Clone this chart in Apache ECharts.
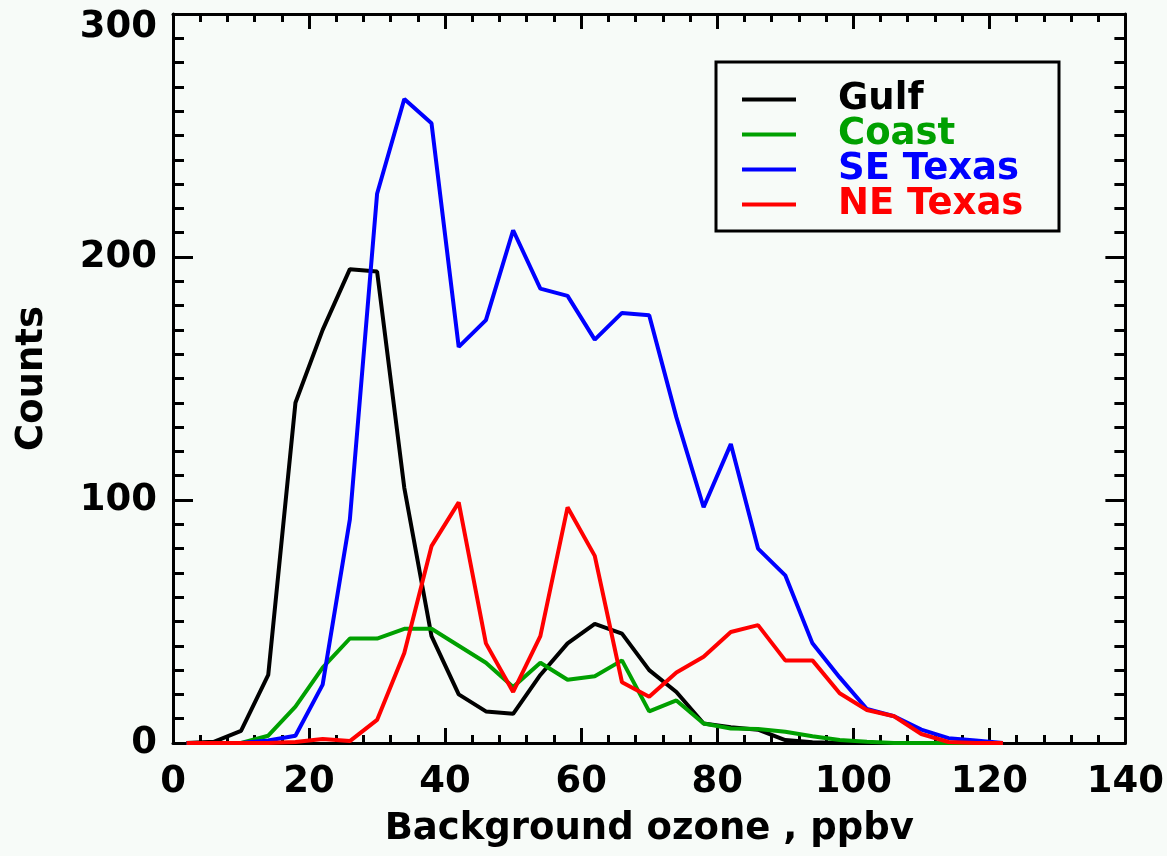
<!DOCTYPE html>
<html>
<head>
<meta charset="utf-8">
<title>Background ozone counts</title>
<script src="https://cdn.jsdelivr.net/npm/echarts@6/dist/echarts.min.js"></script>
<style>
	html, body { margin: 0; padding: 0; background: #f7fbf8; }
	#main { width: 1167px; height: 856px; }
</style>
</head>
<body>
<div id="main"></div>
<script>
// bin centres, ppbv
let ozone = [2, 6, 10, 14, 18, 22, 26, 30, 34, 38, 42, 46, 50, 54, 58, 62, 66, 70, 74, 78, 82, 86, 90, 94, 98, 102, 106, 110, 114, 118, 122];

// counts per region
let gulf = [0, 0.5, 5, 28, 140, 170, 195, 194, 105, 44, 20, 13, 12, 28, 41, 49, 45, 30, 21, 8, 6.5, 5.5, 1.2, 0.3, 0, 0, 0, 0, 0, 0, 0];
let coast = [0, 0, 0, 3, 15, 31, 43, 43, 47, 47, 40, 33, 23, 33, 26, 27.5, 34, 13, 17.5, 8, 6, 5.8, 4.6, 2.8, 1.2, 0.5, 0, 0, 0, 0, 0];
let seTexas = [0, 0, 0, 1, 3, 24, 92, 226, 265, 255, 163, 174, 211, 187, 184, 166, 177, 176, 134, 97, 123, 80, 69, 41, 27, 14, 11, 5.5, 2, 1, 0];
let neTexas = [0, 0, 0, 0, 0.4, 1.6, 0.8, 9.5, 37, 81, 99, 41, 21, 44, 97, 77, 25, 19, 29, 35.5, 45.7, 48.5, 34, 34, 20.5, 13.6, 11, 3.7, 0.4, 0, 0];

let names = ['Gulf', 'Coast', 'SE Texas', 'NE Texas'];
let colors = ['#000000', '#00a000', '#0000ff', '#ff0000'];

let font = 'DejaVu Sans';

function pairs(vals) {
	return ozone.map((x, i) => [x, vals[i]]);
}

// IDL-style box: same axis on both sides, ticks pointing in
function xAx(pos, labels) {
	return {
		type: 'value', position: pos, min: 0, max: 140, interval: 20,
		axisLine: { show: true, onZero: false, lineStyle: { color: '#000', width: 3 } },
		axisTick: { show: true, inside: true, length: 15, lineStyle: { color: '#000', width: 3 } },
		minorTick: { show: true, splitNumber: 5, length: 8, lineStyle: { color: '#000', width: 3 } },
		splitLine: { show: false },
		axisLabel: { show: labels, color: '#000', fontFamily: font, fontWeight: 'bold', fontSize: 37, margin: 21 },
		name: labels ? 'Background ozone , ppbv' : '',
		nameLocation: 'middle', nameGap: 68,
		nameTextStyle: { color: '#000', fontFamily: font, fontWeight: 'bold', fontSize: 37 }
	};
}

function yAx(pos, labels) {
	return {
		type: 'value', position: pos, min: 0, max: 300, interval: 100,
		axisLine: { show: true, onZero: false, lineStyle: { color: '#000', width: 3 } },
		axisTick: { show: true, inside: true, length: 20, lineStyle: { color: '#000', width: 3 } },
		minorTick: { show: true, splitNumber: 10, length: 11, lineStyle: { color: '#000', width: 3 } },
		splitLine: { show: false },
		axisLabel: {
			show: labels, color: '#000', fontFamily: font, fontWeight: 'bold', fontSize: 37, margin: 16,
			// top label sits a bit lower, as in the original
			formatter: v => v === 300 ? '{top|300}' : String(v),
			rich: { top: { fontFamily: font, fontWeight: 'bold', fontSize: 37, color: '#000', padding: [26, 0, 0, 0] } }
		},
		name: labels ? 'Counts' : '',
		nameLocation: 'middle', nameGap: 122, nameRotate: 90,
		nameTextStyle: { color: '#000', fontFamily: font, fontWeight: 'bold', fontSize: 37 }
	};
}

let series = [gulf, coast, seTexas, neTexas].map((vals, i) => ({
	name: names[i],
	type: 'line',
	xAxisIndex: 0,
	yAxisIndex: 0,
	data: pairs(vals),
	showSymbol: false,
	lineStyle: { color: colors[i], width: 4 },
	itemStyle: { color: colors[i] },
	z: 2 + i
}));

let myChart = echarts.init(document.getElementById('main'));

let option = {
	backgroundColor: '#f7fbf8',
	animation: false,
	grid: { left: 173, right: 40, top: 14, bottom: 113 },
	xAxis: [xAx('bottom', true), xAx('top', false)],
	yAxis: [yAx('left', true), yAx('right', false)],
	legend: {
		orient: 'vertical',
		left: 737, top: 76,
		icon: 'rect',
		itemWidth: 54, itemHeight: 4,
		itemGap: -2,
		textStyle: { fontFamily: font, fontWeight: 'bold', fontSize: 37, lineHeight: 34, padding: [0, 0, 0, 37] },
		data: names.map((n, i) => ({ name: n, textStyle: { color: colors[i] } }))
	},
	graphic: [{
		type: 'rect',
		shape: { x: 716, y: 62, width: 343, height: 169 },
		style: { fill: 'none', stroke: '#000', lineWidth: 3 },
		z: 10
	}],
	series: series
};

myChart.setOption(option);
</script>
</body>
</html>
